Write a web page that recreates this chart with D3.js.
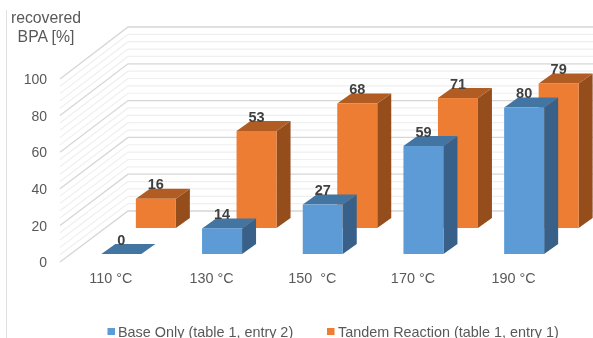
<!DOCTYPE html>
<html><head><meta charset="utf-8">
<script src="https://cdnjs.cloudflare.com/ajax/libs/d3/7.8.5/d3.min.js"></script>
<style>html,body{margin:0;padding:0;background:#fff}svg{display:block}text{font-family:"Liberation Sans",Arial,sans-serif}</style>
</head><body><div id="c"></div>
<script>
const categories = ["110 °C","130 °C","150  °C","170 °C","190 °C"];
const baseOnly = [0,14,27,59,80];
const tandem = [16,53,68,71,79];
const seriesNames = ["Base Only (table 1, entry 2)","Tandem Reaction (table 1, entry 1)"];
const yTicks = [0,20,40,60,80,100];
const minorTicks = d3.range(0,101,4);

const W=593,H=338;
const svg=d3.select("#c").append("svg").attr("width",W).attr("height",H);
const g=svg.append("g").attr("filter","url(#soft)");
svg.append("defs").append("filter").attr("id","soft").attr("x",0).attr("y",0).attr("width",1).attr("height",1)
  .append("feGaussianBlur").attr("stdDeviation",0.45);

const x=d3.scaleBand().domain(categories).range([60.5,564]);
const yFront=d3.scaleLinear().domain([0,100]).range([262,79]);
const yWall=d3.scaleLinear().domain([0,100]).range([211,27]);
const barH=d3.scaleLinear().domain([0,100]).range([0,183]);
const wallX=128, frontX=60;

// image border line
g.append("line").attr("x1",6.5).attr("x2",6.5).attr("y1",10).attr("y2",H).attr("stroke","#e0e0e0");

// grid
minorTicks.forEach(v=>{
  const major=v%20===0;
  const s=major?"#d6d6d6":"#efefef", w=major?1.3:1.2;
  g.append("path").attr("fill","none").attr("stroke",s).attr("stroke-width",w)
   .attr("d",d3.line()([[frontX,yFront(v)],[wallX,yWall(v)],[W,yWall(v)]]));
});

// axes
const yAxis=d3.axisLeft(yFront).tickValues(yTicks).tickSize(0).tickPadding(13);
const ya=g.append("g").attr("transform","translate("+frontX+",0)").call(yAxis);
ya.select(".domain").remove();
ya.selectAll("text").attr("fill","#595959").attr("font-size",14).attr("font-family",'"Liberation Sans",Arial,sans-serif').attr("dy","0.34em");

const xAxis=d3.axisBottom(x).tickSize(0).tickPadding(0);
const xa=g.append("g").attr("transform","translate(0,273)").call(xAxis);
xa.select(".domain").remove();
xa.selectAll("text").attr("fill","#595959").attr("font-size",14.4).attr("font-family",'"Liberation Sans",Arial,sans-serif').attr("xml:space","preserve").style("white-space","pre");

// y title
g.append("text").attr("x",46).attr("y",23).attr("text-anchor","middle").attr("fill","#595959").attr("font-size",15.8).text("recovered");
g.append("text").attr("x",46).attr("y",42).attr("text-anchor","middle").attr("fill","#595959").attr("font-size",15.8).text("BPA [%]");

// bars
const bw=40,dx=14,dy=10;
function bars(vals,baseY,off,c){
  const sel=g.append("g").selectAll("g").data(vals).join("g");
  sel.each(function(v,i){
    const l=x(categories[i])+x.bandwidth()/2+off-bw/2, r=l+bw, t=baseY-barH(v), node=d3.select(this);
    const poly=(pts,f)=>node.append("polygon").attr("points",pts.join(" ")).attr("fill",f);
    poly([[r,baseY],[r+dx,baseY-dy],[r+dx,t-dy],[r,t]],c.side);
    poly([[l,t],[r,t],[r+dx,t-dy],[l+dx,t-dy]],c.top);
    if(v>0) node.append("rect").attr("x",l).attr("y",t).attr("width",bw).attr("height",baseY-t).attr("fill",c.front);
  });
}
const orange={front:"#ED7D31",top:"#B05C22",side:"#954E1C"};
const blue={front:"#5B9BD5",top:"#4274A1",side:"#376188"};
bars(tandem,228,45,orange);
bars(baseOnly,254,10.5,blue);

// labels
function labels(vals,baseY,off){
  g.append("g").selectAll("text").data(vals).join("text")
   .attr("x",(v,i)=>x(categories[i])+x.bandwidth()/2+off)
   .attr("y",v=>baseY-barH(v)-dy+0.5)
   .attr("text-anchor","middle").attr("font-size",14.5).attr("font-weight","bold").attr("fill","#404040")
   .text(v=>v);
}
labels(tandem,228,45);
labels(baseOnly,254,10.5);

// legend
const lg=g.append("g");
[[107.5,"#5B9BD5",118],[327,"#ED7D31",338]].forEach((d,i)=>{
  lg.append("rect").attr("x",d[0]).attr("y",328).attr("width",7.5).attr("height",7).attr("fill",d[1]);
  lg.append("text").attr("x",d[2]).attr("y",336.5).attr("font-size",14.4).attr("fill","#595959").text(seriesNames[i]);
});
</script></body></html>
